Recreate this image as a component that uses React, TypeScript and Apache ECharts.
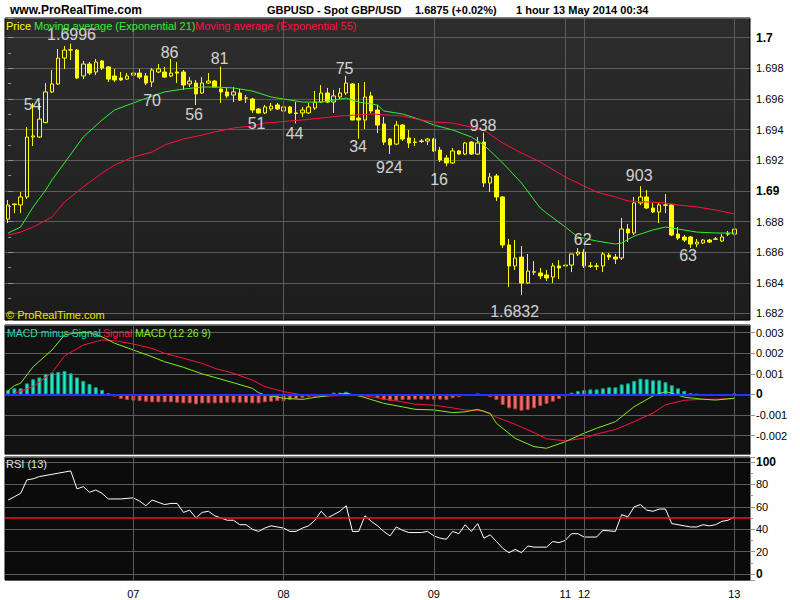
import { useEffect, useRef } from 'react';
import * as echarts from 'echarts';

const FONT = "'Liberation Sans', Arial, Helvetica, sans-serif";
const N_SLOTS = 119;

const dayLabels = ['07', '08', '09', '11', '12', '13'];
const dayIdx = [20, 44, 68, 89, 92, 116];

// [open, close, low, high]
const candles: number[][] = [
  [1.68816, 1.68908, 1.68790, 1.68940], [1.68914, 1.68910, 1.68855, 1.68916], [1.68908, 1.68960, 1.68855, 1.68992],
  [1.68960, 1.69351, 1.68947, 1.69416], [1.69351, 1.69358, 1.69292, 1.69573], [1.69351, 1.69468, 1.69345, 1.69573],
  [1.69446, 1.69645, 1.69440, 1.69703], [1.69645, 1.69697, 1.69638, 1.69788], [1.69697, 1.69866, 1.69690, 1.69925],
  [1.69866, 1.69918, 1.69795, 1.69945], [1.69918, 1.69920, 1.69853, 1.69960], [1.69918, 1.69736, 1.69730, 1.69925],
  [1.69749, 1.69827, 1.69729, 1.69847], [1.69827, 1.69768, 1.69755, 1.69840], [1.69775, 1.69840, 1.69755, 1.69860],
  [1.69847, 1.69801, 1.69788, 1.69853], [1.69808, 1.69729, 1.69710, 1.69814], [1.69749, 1.69723, 1.69710, 1.69795],
  [1.69736, 1.69723, 1.69716, 1.69775], [1.69729, 1.69749, 1.69723, 1.69768], [1.69755, 1.69768, 1.69742, 1.69808],
  [1.69768, 1.69742, 1.69729, 1.69795], [1.69749, 1.69703, 1.69690, 1.69768], [1.69710, 1.69788, 1.69677, 1.69801],
  [1.69775, 1.69795, 1.69768, 1.69827], [1.69775, 1.69742, 1.69736, 1.69808], [1.69749, 1.69768, 1.69742, 1.69860],
  [1.69775, 1.69768, 1.69703, 1.69840], [1.69775, 1.69690, 1.69658, 1.69788], [1.69697, 1.69716, 1.69677, 1.69742],
  [1.69703, 1.69632, 1.69560, 1.69723], [1.69638, 1.69703, 1.69632, 1.69742], [1.69703, 1.69716, 1.69697, 1.69768],
  [1.69716, 1.69677, 1.69677, 1.69723], [1.69664, 1.69645, 1.69573, 1.69810], [1.69645, 1.69619, 1.69606, 1.69677],
  [1.69625, 1.69645, 1.69579, 1.69677], [1.69638, 1.69592, 1.69586, 1.69664], [1.69606, 1.69605, 1.69573, 1.69625],
  [1.69599, 1.69527, 1.69508, 1.69606], [1.69534, 1.69508, 1.69505, 1.69540], [1.69508, 1.69547, 1.69501, 1.69560],
  [1.69534, 1.69553, 1.69521, 1.69573], [1.69560, 1.69534, 1.69527, 1.69573], [1.69521, 1.69547, 1.69514, 1.69560],
  [1.69547, 1.69508, 1.69501, 1.69553], [1.69508, 1.69505, 1.69440, 1.69579], [1.69508, 1.69527, 1.69482, 1.69547],
  [1.69508, 1.69547, 1.69501, 1.69573], [1.69540, 1.69579, 1.69527, 1.69651], [1.69579, 1.69638, 1.69573, 1.69690],
  [1.69638, 1.69579, 1.69573, 1.69671], [1.69579, 1.69619, 1.69508, 1.69658], [1.69612, 1.69638, 1.69599, 1.69671],
  [1.69638, 1.69703, 1.69625, 1.69750], [1.69697, 1.69462, 1.69460, 1.69703], [1.69475, 1.69462, 1.69340, 1.69703],
  [1.69462, 1.69612, 1.69403, 1.69710], [1.69619, 1.69521, 1.69508, 1.69645], [1.69527, 1.69429, 1.69377, 1.69560],
  [1.69436, 1.69318, 1.69299, 1.69482], [1.69338, 1.69299, 1.69240, 1.69345], [1.69305, 1.69429, 1.69299, 1.69455],
  [1.69429, 1.69338, 1.69325, 1.69436], [1.69345, 1.69312, 1.69279, 1.69397], [1.69318, 1.69316, 1.69292, 1.69345],
  [1.69325, 1.69322, 1.69312, 1.69338], [1.69325, 1.69338, 1.69299, 1.69345], [1.69338, 1.69260, 1.69253, 1.69345],
  [1.69266, 1.69201, 1.69188, 1.69286], [1.69214, 1.69182, 1.69160, 1.69234], [1.69182, 1.69260, 1.69175, 1.69279],
  [1.69260, 1.69240, 1.69234, 1.69266], [1.69240, 1.69312, 1.69234, 1.69318], [1.69318, 1.69240, 1.69234, 1.69325],
  [1.69240, 1.69312, 1.69234, 1.69351], [1.69318, 1.69051, 1.69025, 1.69380], [1.69051, 1.69090, 1.68992, 1.69116],
  [1.69097, 1.68960, 1.68934, 1.69110], [1.68960, 1.68647, 1.68627, 1.68966], [1.68647, 1.68510, 1.68373, 1.68686],
  [1.68510, 1.68562, 1.68484, 1.68680], [1.68568, 1.68399, 1.68320, 1.68640], [1.68399, 1.68477, 1.68392, 1.68588],
  [1.68470, 1.68472, 1.68451, 1.68542], [1.68464, 1.68445, 1.68425, 1.68497], [1.68451, 1.68432, 1.68412, 1.68484],
  [1.68438, 1.68510, 1.68399, 1.68529], [1.68510, 1.68497, 1.68425, 1.68549], [1.68510, 1.68516, 1.68432, 1.68562],
  [1.68516, 1.68588, 1.68470, 1.68588], [1.68588, 1.68601, 1.68575, 1.68627], [1.68601, 1.68510, 1.68497, 1.68620],
  [1.68510, 1.68508, 1.68497, 1.68536], [1.68510, 1.68508, 1.68484, 1.68529], [1.68510, 1.68588, 1.68470, 1.68601],
  [1.68581, 1.68568, 1.68549, 1.68594], [1.68568, 1.68555, 1.68523, 1.68588], [1.68562, 1.68751, 1.68549, 1.68823],
  [1.68751, 1.68725, 1.68666, 1.68784], [1.68725, 1.68921, 1.68712, 1.68960], [1.68921, 1.68960, 1.68908, 1.69030],
  [1.68960, 1.68888, 1.68882, 1.69005], [1.68888, 1.68862, 1.68855, 1.68921], [1.68862, 1.68908, 1.68790, 1.68921],
  [1.68908, 1.68906, 1.68855, 1.68979], [1.68908, 1.68712, 1.68705, 1.68914], [1.68718, 1.68692, 1.68679, 1.68764],
  [1.68699, 1.68679, 1.68666, 1.68712], [1.68699, 1.68653, 1.68627, 1.68705], [1.68653, 1.68666, 1.68633, 1.68686],
  [1.68660, 1.68679, 1.68653, 1.68686], [1.68679, 1.68666, 1.68660, 1.68686], [1.68686, 1.68685, 1.68679, 1.68699],
  [1.68673, 1.68699, 1.68666, 1.68718], [1.68718, 1.68720, 1.68705, 1.68738], [1.68718, 1.68750, 1.68712, 1.68760],
];

// [bar index, value]
const ema21: number[][] = [
  [0, 1.68725], [2, 1.68764], [4, 1.68895], [6, 1.69005], [7, 1.69071], [9, 1.69182], [12, 1.69351], [15, 1.69462],
  [17, 1.69527], [20, 1.69573], [23, 1.69618], [25, 1.69645], [28, 1.69664], [31, 1.69677], [33, 1.69677], [36, 1.69671],
  [39, 1.69651], [42, 1.69612], [47, 1.69579], [50, 1.69579], [54, 1.69605], [56, 1.69579], [59, 1.69560], [60, 1.69521],
  [63, 1.69501], [66, 1.69462], [68, 1.69429], [71, 1.69397], [74, 1.69351], [76, 1.69299], [79, 1.69182], [82, 1.69051],
  [85, 1.68888], [86, 1.68855], [89, 1.68764], [91, 1.68699], [94, 1.68673], [97, 1.68653], [98, 1.68660], [100, 1.68705],
  [103, 1.68745], [105, 1.68764], [107, 1.68751], [110, 1.68731], [113, 1.68725], [116, 1.68725],
];
const ema55: number[][] = [
  [0, 1.68712], [2, 1.68731], [4, 1.68764], [7, 1.68829], [9, 1.68927], [12, 1.69025], [15, 1.69116], [17, 1.69168],
  [20, 1.69221], [23, 1.69253], [25, 1.69299], [28, 1.69338], [31, 1.69364], [33, 1.69384], [36, 1.69410], [39, 1.69423],
  [41, 1.69442], [47, 1.69462], [53, 1.69488], [58, 1.69501], [63, 1.69488], [66, 1.69462], [68, 1.69449], [71, 1.69442],
  [74, 1.69416], [76, 1.69397], [79, 1.69312], [82, 1.69247], [85, 1.69188], [89, 1.69090], [91, 1.69051], [94, 1.68992],
  [97, 1.68960], [99, 1.68934], [105, 1.68921], [107, 1.68908], [110, 1.68895], [113, 1.68875], [116, 1.68849],
];

// MACD values in thousandths
const macdHist: number[] = [
  0.22, 0.30, 0.30, 0.54, 0.74, 0.83, 1.00, 1.06, 1.09, 1.14,
  1.03, 0.83, 0.66, 0.51, 0.35, 0.22, 0.06, -0.10, -0.22, -0.27,
  -0.30, -0.32, -0.35, -0.38, -0.38, -0.38, -0.38, -0.40, -0.43, -0.43,
  -0.48, -0.43, -0.43, -0.43, -0.43, -0.40, -0.40, -0.40, -0.40, -0.43,
  -0.43, -0.38, -0.35, -0.32, -0.32, -0.27, -0.22, -0.18, -0.13, -0.10,
  -0.05, -0.02, 0.09, 0.09, 0.13, -0.02, -0.10, -0.07, -0.07, -0.18,
  -0.27, -0.30, -0.30, -0.27, -0.27, -0.25, -0.25, -0.25, -0.25, -0.25,
  -0.27, -0.18, -0.13, -0.07, -0.05, 0.03, -0.07, -0.13, -0.27, -0.51,
  -0.67, -0.72, -0.79, -0.75, -0.67, -0.56, -0.46, -0.35, -0.22, -0.10,
  0.09, 0.17, 0.22, 0.25, 0.25, 0.30, 0.35, 0.35, 0.49, 0.54,
  0.66, 0.77, 0.74, 0.69, 0.69, 0.60, 0.45, 0.30, 0.17, 0.07,
  0.02, 0.00, -0.02, -0.03, -0.03, 0.00, 0.05,
];
const macdLine: number[][] = [
  [0, 0.18], [1, 0.43], [2, 0.55], [4, 1.35], [7, 2.16], [9, 2.89], [11, 3.0], [13, 3.0], [15, 2.8], [17, 2.49],
  [20, 2.16], [23, 1.83], [25, 1.59], [28, 1.32], [31, 1.0], [33, 0.83], [36, 0.57], [39, 0.30], [40, 0.09], [41, -0.02],
  [44, -0.18], [47, -0.24], [49, -0.14], [52, -0.03], [54, 0.06], [56, -0.06], [60, -0.43], [63, -0.6], [65, -0.72],
  [68, -0.75], [71, -0.88], [73, -0.84], [75, -0.72], [77, -0.92], [78, -1.40], [81, -2.13], [84, -2.53], [86, -2.61],
  [89, -2.29], [92, -1.88], [94, -1.64], [97, -1.32], [100, -0.59], [103, -0.07], [105, 0.14], [106, 0.06], [108, -0.13],
  [111, -0.23], [113, -0.27], [116, -0.18],
];
const signalLine: number[][] = [
  [0, -0.07], [1, 0.06], [4, 0.38], [7, 1.06], [9, 1.87], [12, 2.4], [15, 2.65], [17, 2.61], [20, 2.45], [23, 2.24],
  [25, 2.0], [28, 1.76], [31, 1.51], [33, 1.27], [36, 1.03], [39, 0.70], [41, 0.38], [44, 0.14], [47, -0.02], [49, -0.07],
  [52, -0.07], [55, -0.02], [57, -0.07], [60, -0.21], [63, -0.36], [65, -0.47], [68, -0.52], [71, -0.65], [73, -0.75],
  [76, -0.80], [78, -1.1], [81, -1.45], [84, -1.85], [86, -2.15], [89, -2.25], [92, -2.12], [94, -1.92], [97, -1.70],
  [100, -1.32], [103, -0.9], [105, -0.5], [108, -0.28], [111, -0.23], [113, -0.23], [116, -0.2],
];

const rsi13: number[][] = [
  [0, 66], [1, 69], [2, 72], [3, 84], [4, 85], [5, 87], [7, 89], [8, 90], [9, 91], [10, 92], [11, 76], [12, 78], [13, 73],
  [14, 75], [15, 72], [16, 67], [18, 67], [20, 68], [21, 65], [22, 61], [23, 66], [24, 64], [25, 62], [26, 63], [27, 63],
  [28, 55], [29, 57], [30, 50], [31, 55], [32, 56], [33, 52], [35, 48], [36, 48], [37, 44], [38, 44], [39, 40], [40, 38],
  [41, 41], [42, 43], [44, 41], [45, 38], [46, 38], [47, 41], [48, 43], [49, 48], [50, 56], [51, 50], [52, 53], [53, 56],
  [54, 61], [55, 38], [56, 38], [57, 52], [58, 47], [59, 43], [60, 38], [61, 34], [62, 42], [63, 39], [64, 37], [66, 37],
  [67, 38], [68, 34], [69, 32], [70, 31], [71, 38], [72, 36], [73, 44], [74, 38], [75, 45], [76, 32], [77, 35], [78, 29],
  [79, 23], [80, 19], [81, 22], [82, 19], [83, 25], [84, 24], [86, 24], [87, 29], [88, 28], [89, 30], [90, 36], [91, 36],
  [92, 33], [94, 33], [95, 39], [97, 38], [98, 53], [99, 51], [100, 60], [101, 62], [102, 57], [103, 56], [104, 58],
  [105, 58], [106, 45], [107, 44], [108, 43], [109, 42], [110, 42], [111, 44], [112, 43], [113, 44], [114, 47], [115, 48],
  [116, 51],
];

const annText = ['1.6996', '54', '86', '70', '81', '56', '51', '44', '75', '34', '924', '16', '938', '1.6832', '62', '903', '63'];
const annIdx = [10.13, 3.9, 25.78, 22.99, 33.77, 29.7, 39.68, 45.75, 53.74, 55.9, 60.9, 68.84, 75.87, 80.9, 91.77, 100.8, 108.6];
const annPrice = [1.70022, 1.69566, 1.69905, 1.69589, 1.69860, 1.69495, 1.69442, 1.69377, 1.69795, 1.69286, 1.69152,
  1.69077, 1.69423, 1.68216, 1.68683, 1.69097, 1.68575];

const GRID_LINE = '#5c5c5c';
const TICK = '#8a98a6';

function vLines(extra: any[]) {
  return {
    silent: true,
    symbol: ['none', 'none'],
    label: { show: false },
    emphasis: { disabled: true },
    lineStyle: { color: GRID_LINE, width: 1, type: 'solid' },
    data: [...dayIdx.map((i) => ({ xAxis: String(i) })), ...extra],
  };
}

function txt(text: string, x: number, y: number, fill: string, size: number, weight = 'normal') {
  return {
    type: 'text', x, y, z: 100, silent: true,
    style: { text, fill, fontSize: size, fontFamily: FONT, fontWeight: weight, verticalAlign: 'middle', align: 'left' },
  };
}

export default function App() {
  const ref = useRef<HTMLDivElement>(null);
  useEffect(() => {
    if (!ref.current) return;
    const chart = echarts.init(ref.current, undefined, { renderer: 'svg' });
    const cats = Array.from({ length: N_SLOTS }, (_, i) => String(i));
    const labelStyle = { color: '#000', fontSize: 11, fontFamily: FONT, margin: 6 };
    const rich = { b: { fontWeight: 'bold', fontSize: 12, color: '#000', fontFamily: FONT } };
    const hiddenCat = (gi: number) => ({
      type: 'category', gridIndex: gi, data: cats, boundaryGap: true,
      axisLine: { show: false }, axisTick: { show: false }, axisLabel: { show: false }, splitLine: { show: false },
    });
    const yBase = {
      type: 'value', position: 'right', scale: true,
      axisLine: { show: false },
      axisTick: { show: true, length: 5, lineStyle: { color: TICK } },
      splitLine: { show: true, lineStyle: { color: GRID_LINE, width: 1 } },
    };
    const option: any = {
      animation: false,
      backgroundColor: '#ffffff',
      grid: [
        {
          left: 5, right: 50, top: 18, height: 302, show: true, borderColor: '#000', borderWidth: 1,
          backgroundColor: new echarts.graphic.LinearGradient(0, 0, 0, 1, [
            { offset: 0, color: '#2d2d2d' }, { offset: 1, color: '#1c1c1c' },
          ]),
        },
        { left: 5, right: 50, top: 325, height: 129.5, show: true, borderColor: '#000', borderWidth: 1, backgroundColor: '#121212' },
        { left: 5, right: 50, top: 457, height: 123, show: true, borderColor: '#000', borderWidth: 1, backgroundColor: '#0b0b0b' },
      ],
      xAxis: [
        hiddenCat(0),
        hiddenCat(1),
        {
          type: 'category', gridIndex: 2, data: cats, boundaryGap: true,
          axisLine: { show: false },
          axisTick: {
            show: true, alignWithLabel: true, length: 5, lineStyle: { color: TICK },
            interval: (i: number) => dayIdx.indexOf(i) >= 0,
          },
          axisLabel: {
            show: true, color: '#000', fontSize: 11, fontFamily: FONT, margin: 8,
            interval: (i: number) => dayIdx.indexOf(i) >= 0,
            formatter: (_v: string, i: number) => dayLabels[dayIdx.indexOf(i)] ?? '',
          },
          splitLine: { show: false },
        },
        { type: 'value', gridIndex: 0, min: -0.5, max: N_SLOTS - 0.5, show: false },
      ],
      yAxis: [
        {
          ...yBase, gridIndex: 0, min: 1.681576, max: 1.701272, splitNumber: 10,
          minorTick: { show: true, splitNumber: 2, length: 3, lineStyle: { color: TICK } },
          axisLabel: {
            ...labelStyle, showMinLabel: false, showMaxLabel: false, rich,
            formatter: (v: number) => {
              const s = String(parseFloat(v.toFixed(4)));
              return s.length <= 4 ? `{b|${s}}` : s;
            },
          },
        },
        {
          ...yBase, gridIndex: 1, min: -2.913, max: 3.374, splitNumber: 6,
          axisLabel: {
            ...labelStyle, showMinLabel: false, showMaxLabel: false, rich,
            formatter: (v: number) => {
              const r = Math.round(v);
              return r === 0 ? '{b|0}' : (r / 1000).toFixed(3);
            },
          },
        },
        {
          ...yBase, gridIndex: 2, min: -5.36, max: 104.46, splitNumber: 5,
          minorTick: { show: true, splitNumber: 2, length: 3, lineStyle: { color: TICK } },
          axisLabel: {
            ...labelStyle, showMinLabel: false, showMaxLabel: false, rich,
            formatter: (v: number) => {
              const r = Math.round(v);
              return r === 0 || r === 100 ? `{b|${r}}` : String(r);
            },
          },
        },
      ],
      series: [
        { type: 'line', xAxisIndex: 0, yAxisIndex: 0, data: [], z: 1, markLine: vLines([]) },
        {
          type: 'candlestick', xAxisIndex: 0, yAxisIndex: 0, z: 3, barWidth: 4,
          data: candles,
          itemStyle: {
            color: 'rgba(0,0,0,0)', color0: '#ffff00', borderColor: '#ffff00', borderColor0: '#ffff00', borderWidth: 1,
          },
        },
        {
          type: 'line', xAxisIndex: 0, yAxisIndex: 0, data: ema21, showSymbol: false, symbol: 'none', z: 4,
          lineStyle: { color: '#33ee33', width: 1 },
        },
        {
          type: 'line', xAxisIndex: 0, yAxisIndex: 0, data: ema55, showSymbol: false, symbol: 'none', z: 4,
          lineStyle: { color: '#ff1040', width: 1 },
        },
        {
          type: 'scatter', xAxisIndex: 3, yAxisIndex: 0, symbolSize: 1, z: 10, silent: true,
          itemStyle: { color: 'rgba(0,0,0,0)' },
          data: annText.map((t, k) => ({ name: t, value: [annIdx[k], annPrice[k]] })),
          label: {
            show: true, position: 'inside', formatter: '{b}', color: '#ffffff', fontSize: 16, fontFamily: FONT,
          },
        },
        {
          type: 'line', xAxisIndex: 1, yAxisIndex: 1, data: [], z: 1,
          markLine: vLines([{ yAxis: 0, lineStyle: { color: '#2233ff', width: 2, type: 'solid' } }]),
        },
        {
          type: 'bar', xAxisIndex: 1, yAxisIndex: 1, barWidth: 4, z: 3,
          data: macdHist.map((v) => ({
            value: v,
            itemStyle: v >= 0
              ? { color: '#22e6c4', borderColor: '#0f9c86', borderWidth: 1 }
              : { color: '#f07070', borderColor: '#b33a3a', borderWidth: 1 },
          })),
        },
        {
          type: 'line', xAxisIndex: 1, yAxisIndex: 1, data: signalLine, showSymbol: false, symbol: 'none', z: 4,
          lineStyle: { color: '#ff1040', width: 1 },
        },
        {
          type: 'line', xAxisIndex: 1, yAxisIndex: 1, data: macdLine, showSymbol: false, symbol: 'none', z: 4,
          lineStyle: { color: '#80f020', width: 1 },
        },
        {
          type: 'line', xAxisIndex: 2, yAxisIndex: 2, data: [], z: 1,
          markLine: vLines([{ yAxis: 50, lineStyle: { color: '#ff0a2a', width: 1.5, type: 'solid' } }]),
        },
        {
          type: 'line', xAxisIndex: 2, yAxisIndex: 2, data: rsi13, showSymbol: false, symbol: 'none', z: 4,
          lineStyle: { color: '#ffffff', width: 1 },
        },
      ],
      graphic: [
        txt('www.ProRealTime.com', 10, 10, '#000', 12, 'bold'),
        txt('GBPUSD - Spot GBP/USD', 267, 10, '#000', 11, 'bold'),
        txt('1.6875 (+0.02%)', 415, 10, '#000', 11, 'bold'),
        txt('1 hour', 516, 10, '#000', 11, 'bold'),
        txt('13 May 2014 00:34', 553, 10, '#000', 11, 'bold'),
        txt('Price', 6, 26, '#ffff00', 11),
        txt('Moving average (Exponential 21)', 34, 26, '#33ee33', 11),
        txt('Moving average (Exponential 55)', 195, 26, '#ff1040', 11),
        txt('\u00a9 ProRealTime.com', 6, 315, '#e8e800', 11),
        txt('MACD minus Signal', 7, 333, '#22d8b8', 10.5),
        txt('Signal', 103, 333, '#ff1040', 10.5),
        txt('MACD (12 26 9)', 135, 333, '#80f020', 10.5),
        txt('RSI (13)', 6, 464, '#e0e0e0', 11),
      ],
    };
    chart.setOption(option);
    return () => chart.dispose();
  }, []);
  return (
    <div
      ref={ref}
      style={{ position: 'absolute', left: 0, top: 0, width: 800, height: 600, background: '#fff' }}
    />
  );
}
